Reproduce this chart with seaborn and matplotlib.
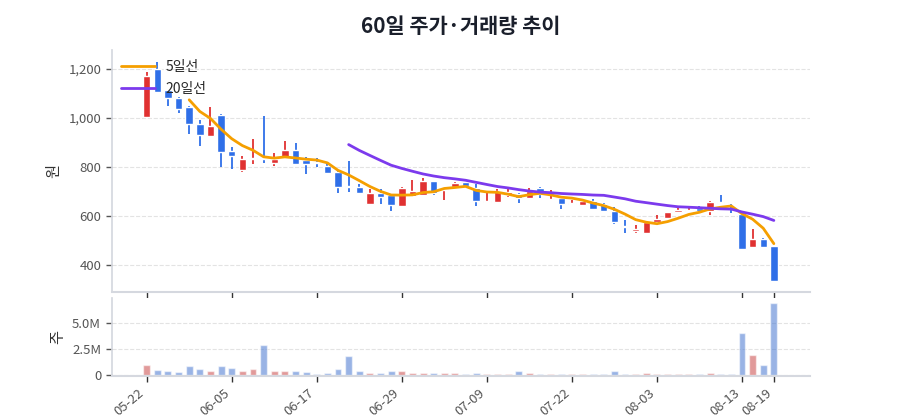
import matplotlib.pyplot as plt
import numpy as np
import pandas as pd
import seaborn as sns

sns.set_theme(style="white")
plt.rcParams["font.family"] = ["Noto Sans CJK KR", "DejaVu Sans"]

dates = [
    "05-22", "05-23", "05-24", "05-27", "05-28", "05-29", "05-30", "05-31", "06-05",
    "06-07", "06-08", "06-10", "06-11", "06-12", "06-13", "06-14", "06-17",
    "06-18", "06-19", "06-20", "06-21", "06-24", "06-26", "06-27", "06-29",
    "07-01", "07-02", "07-03", "07-04", "07-05", "07-07", "07-08", "07-09",
    "07-10", "07-11", "07-12", "07-15", "07-16", "07-17", "07-19", "07-22",
    "07-23", "07-24", "07-25", "07-26", "07-29", "07-30", "08-01", "08-03",
    "08-05", "08-06", "08-07", "08-08", "08-09", "08-10", "08-12", "08-13",
    "08-14", "08-16", "08-19",
]
opens = [
    1005, 1200, 1112, 1080, 1046, 976, 928, 1011, 863, 789,
    832, 838, 816, 839, 869, 829, 822, 803, 781, 721,
    720, 649, 694, 685, 642, 682, 685, 741, 706, 717,
    737, 714, 657, 655, 687, 689, 673, 714, 668, 673,
    650, 645, 662, 649, 622, 560, 537, 531, 577, 591,
    617, 620, 633, 620, 655, 655, 607, 473, 507, 477,
]
closes = [
    1169, 1107, 1082, 1037, 973, 932, 965, 861, 844, 833,
    836, 832, 834, 869, 811, 811, 815, 776, 717, 717,
    695, 695, 677, 643, 714, 700, 743, 693, 710, 734,
    723, 660, 661, 703, 696, 673, 700, 689, 671, 649,
    654, 660, 628, 619, 574, 556, 547, 575, 589, 617,
    625, 624, 620, 657, 651, 651, 467, 507, 473, 336,
]
highs = [
    1186, 1227, 1115, 1085, 1050, 992, 1043, 1014, 880, 845,
    914, 1008, 856, 905, 897, 842, 837, 812, 785, 826,
    731, 710, 710, 688, 716, 747, 755, 742, 712, 740,
    740, 730, 696, 708, 710, 694, 712, 716, 705, 675,
    666, 662, 669, 652, 635, 585, 563, 578, 603, 618,
    636, 632, 641, 660, 687, 657, 609, 547, 509, 478,
]
lows = [
    1005, 1105, 1048, 1019, 935, 887, 921, 799, 792, 781,
    810, 816, 804, 838, 807, 771, 801, 775, 694, 697,
    694, 648, 649, 619, 641, 680, 680, 687, 666, 716,
    721, 642, 656, 654, 678, 653, 672, 673, 666, 628,
    648, 639, 626, 617, 565, 530, 529, 527, 564, 589,
    615, 618, 618, 603, 647, 613, 460, 471, 469, 334,
]
volumes = [
    0.98, 0.49, 0.33, 0.30, 0.88, 0.59, 0.33, 0.82, 0.69, 0.39,
    0.59, 2.88, 0.33, 0.42, 0.39, 0.30, 0.13, 0.20, 0.59, 1.86,
    0.33, 0.20, 0.16, 0.33, 0.33, 0.23, 0.23, 0.23, 0.16, 0.16,
    0.13, 0.23, 0.13, 0.13, 0.13, 0.33, 0.16, 0.07, 0.07, 0.13,
    0.07, 0.07, 0.13, 0.13, 0.33, 0.13, 0.13, 0.20, 0.13, 0.13,
    0.13, 0.13, 0.13, 0.23, 0.13, 0.13, 4.05, 1.96, 0.98, 7.00,
]

RED = "#e03131"
BLUE = "#2f6fe8"

df = pd.DataFrame({
    "idx": np.arange(len(dates)),
    "date": dates,
    "open": opens,
    "close": closes,
    "high": highs,
    "low": lows,
    "volume": np.array(volumes) * 1e6,
})
df["dir"] = np.where(df["close"] >= df["open"], "up", "down")
df["ma5"] = df["close"].rolling(5).mean()
df["ma20"] = df["close"].rolling(20).mean()

fig = plt.figure(figsize=(9, 4.2), dpi=100)
ax = fig.add_axes([0.124, 0.305, 0.776, 0.576])
axv = fig.add_axes([0.124, 0.105, 0.776, 0.185], sharex=ax)

# candles
colors = np.where(df["dir"] == "up", RED, BLUE)
ax.vlines(df["idx"], df["low"], df["high"], colors=colors, linewidth=1.3, zorder=2)
body_lo = df[["open", "close"]].min(axis=1)
body_h = (df["open"] - df["close"]).abs().clip(lower=3)
ax.bar(df["idx"], body_h, bottom=body_lo, width=0.7, color=colors, zorder=3)

sns.lineplot(data=df, x="idx", y="ma5", ax=ax, color="#f59f00", linewidth=2, label="5일선", zorder=4)
sns.lineplot(data=df, x="idx", y="ma20", ax=ax, color="#7c3aed", linewidth=2, label="20일선", zorder=4)

ax.set_ylim(290, 1277)
ax.set_yticks([400, 600, 800, 1000, 1200])
ax.set_yticklabels([f"{v:,}" for v in [400, 600, 800, 1000, 1200]])
ax.set_ylabel("원", fontsize=11, color="#333")
ax.set_xlabel("")
ax.grid(axis="y", linestyle="--", color="#e3e3e3", linewidth=0.8)
ax.set_title("60일 주가·거래량 추이", fontsize=15, fontweight="bold", color="#1a1f2b", pad=12)
leg = ax.legend(loc="upper left", frameon=False, fontsize=10, handlelength=2.4,
                borderaxespad=0.3, labelspacing=0.6)

# volume
sns.barplot(data=df, x="idx", y="volume", hue="dir", palette={"up": RED, "down": BLUE},
            native_scale=True, dodge=False, width=0.65, alpha=0.55, errorbar=None,
            legend=False, ax=axv)
axv.set_ylim(-0.1e6, 7.45e6)
axv.set_yticks([0, 2.5e6, 5e6])
axv.set_yticklabels(["0", "2.5M", "5.0M"])
axv.set_ylabel("주", fontsize=11, color="#333")
axv.set_xlabel("")
axv.grid(axis="y", linestyle="--", color="#e3e3e3", linewidth=0.8)

ticks = list(range(0, len(dates), 8)) + [len(dates) - 1]
ax.set_xlim(-3.3, 62.4)
axv.set_xticks(ticks)
axv.set_xticklabels([dates[i] for i in ticks], rotation=40, ha="right")
plt.setp(ax.get_xticklabels(), visible=False)

for a in (ax, axv):
    for s in ("top", "right"):
        a.spines[s].set_visible(False)
    a.spines["left"].set_color("#d5d8df")
    a.spines["bottom"].set_color("#d5d8df")
    a.spines["bottom"].set_linewidth(1.5)
    a.tick_params(axis="both", labelsize=9.5, colors="#555", length=4, width=1,
                  left=True, bottom=True)
    a.tick_params(axis="x", colors="#333")
    a.tick_params(axis="x", labelcolor="#555")

fig.savefig("out.png", dpi=100)
